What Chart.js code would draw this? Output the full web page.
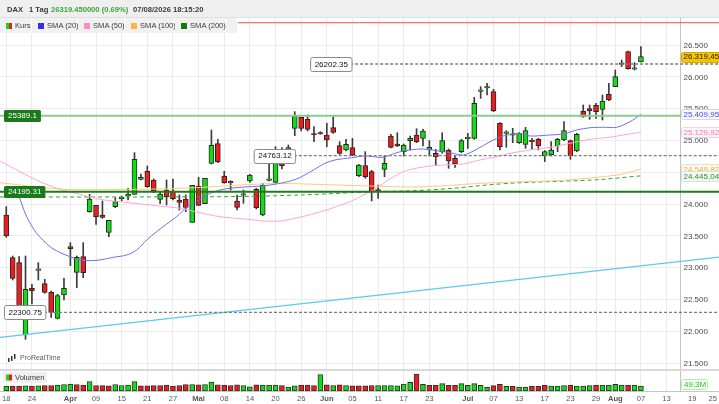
<!DOCTYPE html>
<html lang="de">
<head>
<meta charset="utf-8">
<title>DAX 1 Tag</title>
<script src="https://cdn.jsdelivr.net/npm/chart.js@4.4.1/dist/chart.umd.min.js"></script>
<style>
  html, body { margin: 0; padding: 0; background: #fff; }
  #wrap { position: relative; width: 719px; height: 404px; overflow: hidden; font-family: "Liberation Sans", Arial, sans-serif; }
  #chart { position: absolute; left: 0; top: 0; }
  #hdr { position: absolute; left: 0; top: 0; width: 719px; height: 18px; background: #efefef; border-bottom: 1px solid #e0e0e0; box-sizing: border-box; font-size: 7.6px; font-weight: bold; color: #3a3a3a; white-space: nowrap; }
  #hdr span { position: absolute; top: 5px; }
  #hdr .up { color: #3aa53a; }
  #legend { position: absolute; left: 0; top: 18px; height: 15px; display: flex; font-size: 7.6px; color: #3a3a3a; white-space: nowrap; }
  #legend div { height: 15px; line-height: 15px; background: #f1f1f1; border-right: 1px solid #fff; box-sizing: border-box; padding-left: 6px; }
  #legend i { display: inline-block; width: 6px; height: 6px; margin-right: 3px; vertical-align: -0.5px; }
</style>
</head>
<body>
<div id="wrap">
  <canvas id="chart" width="719" height="404"></canvas>
  <div id="hdr">
    <span style="left:7px">DAX</span>
    <span style="left:29px">1 Tag</span>
    <span style="left:51px" class="up">26319.450000 (0.69%)</span>
    <span style="left:133px">07/08/2026 18:15:20</span>
  </div>
  <div id="legend">
    <div style="width:32px"><i style="background:linear-gradient(90deg,#14d814 50%,#ee1c1c 50%)"></i>Kurs</div>
    <div style="width:46px"><i style="background:#3333dd"></i>SMA (20)</div>
    <div style="width:47px"><i style="background:#ff88c8"></i>SMA (50)</div>
    <div style="width:50px"><i style="background:#ffb43c"></i>SMA (100)</div>
    <div style="width:51px"><i style="background:#107a10"></i>SMA (200)</div>
    <div style="width:12px"></div>
  </div>
</div>
<script>
// DAX daily candles 18.03.2026 - 07.08.2026, index = trading day
const opens = [23830, 23159, 23081, 21944, 22677, 22960, 22751, 22614, 22206, 22572,
  23332, 22929, 23175, 23882, 23981, 23830, 23557, 23960, 24086, 24128,
  24154, 24390, 24516, 24380, 24076, 24222, 24196, 24065, 24081, 23714,
  24285, 24008, 24641, 24951, 24442, 24359, 24050, 24140, 24364, 24233,
  23830, 24374, 24343, 24641, 24867, 25191, 25364, 25333, 25097, 25123,
  25087, 25202, 24919, 24851, 24888, 24448, 24605, 24511, 24212, 24547,
  25071, 24945, 24825, 24998, 25087, 25034, 24851, 24799, 24825, 24851,
  24720, 24825, 25029, 25034, 25773, 25825, 25768, 25270, 25113, 25082,
  24966, 24940, 25008, 25019, 24757, 24772, 24914, 25008, 24998, 24835,
  25464, 25501, 25553, 25490, 25726, 25846, 26197, 26396, 26119, 26234]
const highs = [23961, 23185, 23175, 23185, 22740, 23081, 22819, 22635, 22583, 22834,
  23395, 23185, 23395, 24154, 23981, 24050, 23746, 24102, 24128, 24249,
  24809, 24474, 24600, 24395, 24191, 24380, 24395, 24144, 24144, 24296,
  24422, 24406, 25165, 25019, 24516, 24369, 24144, 24222, 24469, 24249,
  24327, 24641, 24903, 24888, 24930, 25453, 25364, 25401, 25218, 25139,
  25270, 25375, 24982, 25019, 25034, 24626, 24825, 24531, 24301, 24757,
  25097, 25123, 24945, 25071, 25186, 25176, 24998, 24861, 25123, 24867,
  24757, 25019, 25113, 25679, 25846, 25899, 25804, 25281, 25155, 25191,
  25123, 25207, 25034, 25034, 24841, 24982, 25034, 25296, 25008, 25113,
  25558, 25558, 25584, 25715, 25899, 26108, 26265, 26407, 26223, 26475]
const lows = [23479, 22808, 22363, 21876, 22431, 22808, 22599, 22221, 22195, 22494,
  23033, 22688, 22845, 23872, 23683, 23777, 23489, 23945, 24055, 24065,
  24154, 24380, 24264, 24180, 24008, 23987, 24065, 23908, 23882, 23714,
  23981, 24008, 24631, 24652, 24327, 24222, 23908, 24013, 24343, 23924,
  23819, 24364, 24332, 24552, 24851, 25076, 25150, 25150, 24982, 25097,
  24903, 25113, 24783, 24835, 24762, 24432, 24406, 24050, 24092, 24432,
  24882, 24903, 24757, 24851, 24966, 24914, 24757, 24615, 24799, 24563,
  24579, 24809, 24877, 25019, 25663, 25715, 25453, 24851, 24893, 24966,
  24956, 24877, 24861, 24851, 24668, 24757, 24825, 24998, 24704, 24825,
  25364, 25333, 25349, 25322, 25626, 25846, 26161, 26119, 26108, 26234]
const closes = [23500, 22834, 22389, 22661, 22635, 22970, 22614, 22300, 22562, 22677,
  23301, 23164, 22923, 24081, 23803, 23793, 23746, 24039, 24112, 24154,
  24704, 24422, 24275, 24212, 24160, 24118, 24086, 24029, 23950, 24296,
  23981, 24406, 24924, 24668, 24338, 24335, 23950, 24146, 24458, 23945,
  24301, 24395, 24668, 24605, 24888, 25385, 25191, 25176, 25087, 25102,
  25008, 25129, 24799, 24940, 24772, 24615, 24432, 24196, 24207, 24641,
  24893, 24914, 24930, 25034, 24982, 25150, 24893, 24746, 24998, 24678,
  24631, 24998, 25040, 25584, 25783, 25836, 25469, 24903, 25134, 25087,
  25113, 25155, 24982, 24914, 24825, 24851, 25019, 25155, 24757, 25097,
  25375, 25464, 25455, 25621, 25637, 26003, 26208, 26130, 26139, 26319.45]
// Volumen in Mio.
const volumes = [50, 50, 50, 52, 50, 52, 55, 55, 60, 65,
  70, 65, 60, 95, 55, 55, 52, 65, 55, 58,
  95, 52, 52, 55, 55, 60, 48, 55, 65, 65,
  62, 65, 90, 62, 60, 55, 62, 55, 42, 62,
  58, 58, 58, 55, 38, 52, 58, 58, 55, 165,
  62, 55, 62, 55, 52, 52, 52, 55, 55, 55,
  55, 52, 70, 87, 170, 67, 57, 57, 73, 57,
  57, 73, 57, 73, 57, 37, 53, 67, 47, 47,
  40, 40, 47, 47, 60, 50, 50, 53, 60, 50,
  50, 53, 60, 60, 60, 67, 60, 60, 60, 49.3]

// the last label sits a little left of its day so it stays on screen
const xTickPos = [0, 4, 10, 14, 18, 22, 26, 30, 34, 38, 42, 46, 50, 54, 58, 62, 66, 72, 76, 80, 84, 88, 92, 95, 99, 103, 107, 110.2]
const xTickText = ['18', '24', 'Apr', '09', '15', '21', '27', 'Mai', '08', '14', '20', '26', 'Jun', '05', '11', '17', '23', 'Jul', '07', '13', '17', '23', '29', 'Aug', '07', '13', '19', '25']
const monthNames = ['Apr', 'Mai', 'Jun', 'Jul', 'Aug']
const priceTicks = [21500, 22000, 22500, 23000, 23500, 24000, 24500, 25000, 25500, 26000, 26500]

// moving averages: [trading day, value]
const sma20 = [[0.6, 24270], [1.62, 24196], [3.18, 23803], [4.74, 23542], [6.82, 23332], [8.11, 23253], [9.94, 23174],
  [11.5, 23123], [13.06, 23112], [14.62, 23123], [16.69, 23165], [18.78, 23201], [20.34, 23280], [21.9, 23437],
  [23.46, 23567], [25.02, 23688], [26.58, 23803], [28.14, 23951], [29.7, 24039], [31.26, 24144], [33.34, 24223],
  [34.9, 24249], [36.46, 24265], [40.36, 24290], [43.48, 24343], [45.55, 24406], [47.64, 24521], [49.72, 24642],
  [51.28, 24694], [53.88, 24730], [55.96, 24757], [58.81, 24736], [60.9, 24809], [62.98, 24851], [65.05, 24867],
  [67.14, 24840], [69.22, 24809], [71.29, 24772], [73.39, 24862], [75.46, 24981], [77.54, 25071], [80.14, 25113],
  [81.7, 25071], [84.82, 25087], [86.9, 25102], [88.99, 25165], [91.06, 25201], [93.14, 25208], [95.23, 25208],
  [97.3, 25296], [99, 25409.95]]
const sma50 = [[-0.98, 24678], [2.14, 24510], [5.26, 24353], [8.38, 24234], [11.5, 24155], [14.62, 24076], [17.74, 24039],
  [20.86, 24003], [23.98, 23971], [27.1, 23935], [30.22, 23866], [33.34, 23803], [37.24, 23767], [40.36, 23735],
  [42.7, 23735], [44.52, 23767], [47.64, 23841], [50.76, 23935], [53.88, 24050], [55.96, 24155], [57.52, 24238],
  [59.08, 24348], [60.64, 24442], [62.2, 24521], [65.05, 24584], [68.17, 24615], [71.29, 24631], [73.39, 24683],
  [76.5, 24746], [78.58, 24799], [81.7, 24851], [84.82, 24893], [87.94, 24956], [91.06, 25019], [94.18, 25051],
  [96.26, 25087], [99, 25129.92]]
const sma100 = [[-0.98, 24337], [2.14, 24301], [5.26, 24265], [9.94, 24230], [17.74, 24230], [23.98, 24238],
  [30.22, 24262], [36.46, 24301], [42.7, 24325], [48.94, 24309], [56.74, 24285], [62.98, 24270], [67.66, 24285],
  [72.34, 24317], [77.02, 24340], [81.7, 24356], [86.38, 24372], [92.62, 24427], [95.74, 24466], [99, 24549.82]]
const sma200 = [[-0.98, 24113], [17.74, 24113], [36.46, 24120], [45.82, 24144], [57.52, 24196], [63.45, 24211],
  [69.69, 24249], [74.99, 24301], [80.14, 24337], [86.38, 24359], [92.62, 24387], [99, 24445.04]]

// drawn objects
const trendX = [-0.98, 111.18]
const trendY = [21908, 23168]
const resistanceLevel = 26851
const greenLevels = [25389.1, 24195.31]
const greenColors = ['#8fc98f', '#1d7d1d']
const dashedLevels = [26202.35, 24763.12, 22300.75]
const dashedLabelAt = [47.4, 38.6, -0.36]

const xMin = -0.98, xMax = 111.18
const yMin = 21064, yMax = 26925
const axisColX = 680.5
const panelSplitY = 370

const GREEN = '#14dc14', RED = '#ee1c1c'
const FONT = '"Liberation Sans", Arial, sans-serif'

function fmtDe(v, dec) {
  const s = v.toFixed(dec).split('.')
  const int = s[0].replace(/\B(?=(\d{3})+(?!\d))/g, '.')
  return s[1] ? int + ',' + s[1] : int
}
const pts = (arr) => arr.map(([x, y]) => ({ x, y }))
const hline = (v, from) => [{ x: from, y: v }, { x: xMax, y: v }]

function box(ctx, x, y, w, h, fill, stroke, r) {
  ctx.beginPath()
  if (ctx.roundRect) ctx.roundRect(x, y, w, h, r)
  else ctx.rect(x, y, w, h)
  ctx.fillStyle = fill
  ctx.fill()
  if (stroke) { ctx.strokeStyle = stroke; ctx.lineWidth = 1; ctx.stroke() }
}

const panelPlugin = {
  id: 'panel',
  beforeDatasetsDraw(chart) {
    const { ctx, chartArea: a } = chart
    ctx.save()
    // price axis column
    ctx.fillStyle = '#fff'
    ctx.fillRect(axisColX, a.top, a.right - axisColX, a.bottom - a.top)
    ctx.fillStyle = '#c4c4c4'
    ctx.fillRect(axisColX - 0.5, a.top, 1, a.bottom - a.top)
    // volume panel separator
    ctx.fillStyle = '#d9d9d9'
    ctx.fillRect(0, panelSplitY - 1, a.right, 2)
    ctx.restore()
  },
  afterDatasetsDraw(chart) {
    const { ctx } = chart
    const y = chart.scales.y, x = chart.scales.x, yv = chart.scales.yv
    ctx.save()
    ctx.textBaseline = 'middle'
    ctx.font = '8px ' + FONT

    // level labels in the chart
    dashedLevels.forEach((v, i) => {
      const txt = String(v)
      const w = ctx.measureText(txt).width + 8
      const px = x.getPixelForValue(dashedLabelAt[i]), py = y.getPixelForValue(v)
      box(ctx, px + 0.5, Math.round(py) - 6.5, w, 14, '#fff', '#8a8a8a', 2)
      ctx.fillStyle = '#111'
      ctx.textAlign = 'left'
      ctx.fillText(txt, px + 4.5, py + 0.5)
    })
    greenLevels.forEach((v) => {
      const txt = String(v)
      const w = ctx.measureText(txt).width + 8
      const py = y.getPixelForValue(v)
      box(ctx, 4, Math.round(py) - 6, w, 12, '#187a18', null, 1.5)
      ctx.fillStyle = '#fff'
      ctx.fillText(txt, 8, py + 0.5)
    })

    // price axis labels
    ctx.fillStyle = '#4a4a4a'
    ctx.textAlign = 'left'
    y.ticks.forEach((t) => ctx.fillText(fmtDe(t.value, 0), axisColX + 3, y.getPixelForValue(t.value) + 0.5))

    // last values on the axis
    const tags = [
      [closes[closes.length - 1], '#f6c400', '#d7a800', '#222'],
      [sma20[sma20.length - 1][1], '#f7f7fb', '#d6d6e2', '#4b4bf0'],
      [sma50[sma50.length - 1][1], '#fbf7f9', '#e6d6df', '#ff6fb7'],
      [sma100[sma100.length - 1][1], '#fbf9f4', '#e6dfd0', '#ffab2e'],
      [sma200[sma200.length - 1][1], '#f5f9f5', '#d5e3d5', '#2f8f2f'],
    ]
    tags.forEach(([v, bg, bd, fg]) => {
      const py = y.getPixelForValue(v)
      box(ctx, axisColX + 1, Math.round(py) - 4.5, 42, 10, bg, bd, 2)
      ctx.fillStyle = fg
      ctx.fillText(fmtDe(v, 2), axisColX + 3, py + 0.5)
    })
    const vLast = volumes[volumes.length - 1]
    const vy = yv.getPixelForValue(vLast) - 2
    box(ctx, axisColX + 1, Math.round(vy) - 4.5, 26, 10, '#f3fff3', '#b9e6b9', 2)
    ctx.fillStyle = '#2fc42f'
    ctx.fillText(fmtDe(vLast, 1) + 'M', axisColX + 3.5, vy + 0.5)

    // watermark
    ctx.fillStyle = '#333'
    ;[[8, 358, 4], [11, 356, 5], [14, 354, 5]].forEach(([bx, by, bh]) => ctx.fillRect(bx, by, 1.5, bh))
    ctx.fillStyle = '#5a5a5a'
    ctx.font = '7px ' + FONT
    ctx.fillText('ProRealTime', 20, 358)

    // volume legend
    ctx.font = '7.6px ' + FONT
    ctx.fillStyle = '#efefef'
    ctx.fillRect(3, 372, 44, 11)
    ctx.fillStyle = GREEN
    ctx.fillRect(6, 374.5, 3, 6)
    ctx.fillStyle = RED
    ctx.fillRect(9, 374.5, 3, 6)
    ctx.fillStyle = '#3a3a3a'
    ctx.fillText('Volumen', 15, 378)
    ctx.restore()
  },
}

const idx = opens.map((_, i) => i)
const upColor = idx.map((i) => (closes[i] >= opens[i] ? GREEN : RED))
const volColor = idx.map((i) => (i === 0 || closes[i] >= closes[i - 1] ? GREEN : RED))

const lineBase = { type: 'line', pointRadius: 0, borderWidth: 1, fill: false, yAxisID: 'y' }

new Chart(document.getElementById('chart'), {
  type: 'bar',
  data: {
    datasets: [
      { ...lineBase, data: hline(resistanceLevel, xMin), borderColor: '#ff4b4b', order: 1 },
      { ...lineBase, data: hline(greenLevels[0], xMin), borderColor: greenColors[0], borderWidth: 2, order: 1 },
      { ...lineBase, data: hline(greenLevels[1], xMin), borderColor: greenColors[1], borderWidth: 2, order: 1 },
      ...dashedLevels.map((v, i) => ({ ...lineBase, data: hline(v, dashedLabelAt[i]), borderColor: '#7c7c7c', borderWidth: 1.3, borderDash: [3, 2], order: 1 })),
      { ...lineBase, data: [{ x: trendX[0], y: trendY[0] }, { x: trendX[1], y: trendY[1] }], borderColor: '#5cc8f6', borderWidth: 1.3, order: 2 },
      { ...lineBase, data: pts(sma20), borderColor: '#6f6ff2', tension: 0.3, order: 3 },
      { ...lineBase, data: pts(sma50), borderColor: '#ffa6d2', tension: 0.3, order: 3 },
      { ...lineBase, data: pts(sma100), borderColor: '#ffcb7a', tension: 0.3, order: 3 },
      { ...lineBase, data: pts(sma200), borderColor: '#3c9c3c', borderDash: [4, 3], tension: 0.3, order: 3 },
      {
        label: 'Kurs', data: idx.map((i) => ({ x: i, y: [opens[i], closes[i]] })), yAxisID: 'y',
        backgroundColor: upColor, borderColor: '#262626', borderWidth: 1, borderSkipped: false,
        barThickness: 5, minBarLength: 1.5, grouped: false, order: 4,
      },
      {
        label: 'Docht', data: idx.map((i) => ({ x: i, y: [lows[i], highs[i]] })), yAxisID: 'y',
        backgroundColor: '#3c3c3c', barThickness: 1, grouped: false, order: 5,
      },
      {
        label: 'Volumen', data: idx.map((i) => ({ x: i, y: volumes[i] })), yAxisID: 'yv',
        backgroundColor: volColor, borderColor: '#2e2e2e', borderWidth: 1, borderSkipped: false,
        barThickness: 5, grouped: false, order: 5,
      },
    ],
  },
  options: {
    responsive: false,
    animation: false,
    events: [],
    layout: { padding: { top: 18, left: 0, right: 0, bottom: 0 } },
    plugins: { legend: { display: false }, tooltip: { enabled: false } },
    scales: {
      x: {
        type: 'linear', min: xMin, max: xMax, offset: false,
        afterBuildTicks: (s) => { s.ticks = xTickPos.map((v) => ({ value: v })) },
        afterFit: (s) => { s.height = 13; s.paddingLeft = 0; s.paddingRight = 0 },
        ticks: {
          autoSkip: false, maxRotation: 0, padding: 3, color: '#555',
          callback: (v, i) => xTickText[i],
          font: (c) => ({ family: FONT, size: 7.6, weight: monthNames.includes(xTickText[c.index]) ? 'bold' : 'normal' }),
        },
        grid: { color: '#ebebeb', drawTicks: false, offset: false },
        border: { color: '#c6c6c6' },
      },
      y: {
        type: 'linear', position: 'right', min: yMin, max: yMax,
        afterFit: (s) => { s.width = 0 },
        afterBuildTicks: (s) => { s.ticks = priceTicks.map((v) => ({ value: v })) },
        ticks: { display: false },
        grid: { color: '#ececec', drawTicks: false },
        border: { display: false },
      },
      yv: { type: 'linear', position: 'right', display: false, min: 0, max: 3730 },
    },
  },
  plugins: [panelPlugin],
})
</script>
</body>
</html>
